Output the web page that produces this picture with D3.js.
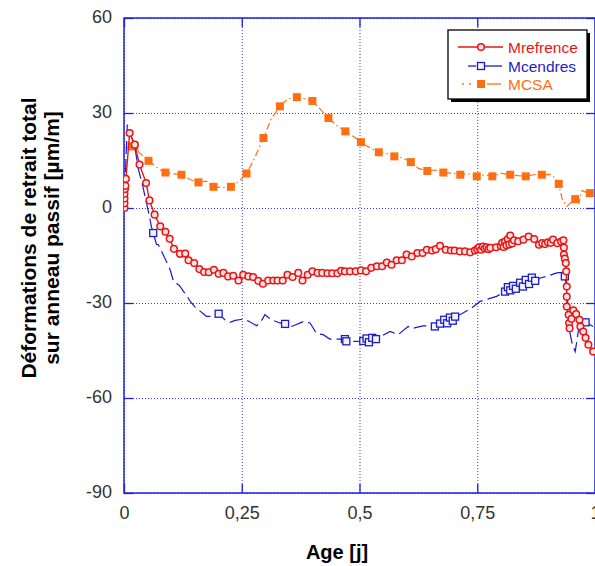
<!DOCTYPE html>
<html><head><meta charset="utf-8">
<script src="https://cdn.jsdelivr.net/npm/d3@7"></script>
<style>html,body{margin:0;padding:0;background:#fff;overflow:hidden}</style>
</head><body>
<svg id="c" width="595" height="566"></svg>
<script>
// ---------- data ----------
const xTicks = [0, 0.25, 0.5, 0.75, 1];
const xTickLabels = ["0", "0,25", "0,5", "0,75", "1"];
const yTicks = [-90, -60, -30, 0, 30, 60];
const yTickLabels = ["-90", "-60", "-30", "0", "30", "60"];
const seriesNames = ["Mrefrence", "Mcendres", "MCSA"];

const refAge = [0.001,0.001,0.001,0.001,0.002,0.003,0.004,0.012,0.023,0.033,0.047,0.054,0.065,0.077,0.088,0.097,0.106,0.119,0.130,0.137,0.149,0.160,0.170,0.180,0.191,0.201,0.211,0.221,0.232,0.243,0.253,0.264,0.274,0.285,0.295,0.306,0.317,0.326,0.337,0.347,0.358,0.370,0.379,0.390,0.400,0.411,0.421,0.432,0.442,0.453,0.461,0.469,0.480,0.492,0.503,0.514,0.525,0.537,0.548,0.558,0.568,0.579,0.590,0.600,0.611,0.623,0.634,0.643,0.654,0.662,0.671,0.683,0.694,0.702,0.713,0.724,0.735,0.745,0.750,0.754,0.758,0.762,0.766,0.770,0.774,0.778,0.790,0.800,0.803,0.806,0.809,0.812,0.815,0.818,0.820,0.824,0.828,0.837,0.848,0.859,0.871,0.881,0.888,0.894,0.900,0.906,0.911,0.920,0.928,0.933,0.934,0.934,0.936,0.938,0.939,0.940,0.940,0.940,0.944,0.945,0.946,0.950,0.954,0.960,0.967,0.969,0.975,0.980,0.986,0.996];
const refVal = [0,1.5,3,4.5,6,7,9.2,23.7,20.0,13.7,7.9,2.4,-2.1,-5.8,-7.5,-9.7,-12.9,-14.5,-14.4,-16.5,-17.4,-19.3,-20.2,-20.3,-19.5,-20.8,-20.5,-21.6,-21.4,-22.9,-21.1,-21.6,-21.8,-23.0,-23.9,-22.9,-22.9,-22.9,-22.9,-21.1,-21.8,-20.5,-22.9,-21.1,-20.0,-20.5,-20.5,-20.6,-20.6,-20.6,-19.8,-20.0,-20.0,-20.0,-19.7,-20.0,-18.9,-18.4,-18.4,-17.2,-17.9,-16.5,-16.5,-14.7,-15.3,-14.2,-14.2,-13.2,-13.4,-13.0,-11.9,-13.2,-13.4,-13.4,-13.7,-13.7,-14.0,-13.4,-13.0,-12.4,-13.2,-12.2,-12.8,-12.4,-13.0,-12.6,-12.4,-12.0,-11.0,-12.3,-10.6,-11.8,-9.8,-11.5,-8.7,-11.2,-10.2,-10.5,-10.0,-9.0,-9.8,-11.6,-11.1,-11.4,-10.8,-11.0,-10.0,-11.1,-10.6,-10.2,-12.5,-14.7,-16.0,-17.4,-20,-24.8,-28,-31.1,-33.7,-36.3,-38,-35,-32.3,-33.5,-35.3,-37.4,-39,-41,-43.2,-45.3];

const cendAge = [0.001,0.004,0.007,0.015,0.023,0.030,0.040,0.047,0.054,0.058,0.062,0.069,0.073,0.083,0.098,0.105,0.117,0.134,0.140,0.151,0.175,0.190,0.201,0.214,0.225,0.236,0.253,0.264,0.282,0.294,0.299,0.313,0.331,0.342,0.356,0.382,0.395,0.409,0.423,0.437,0.469,0.472,0.494,0.508,0.515,0.520,0.527,0.535,0.546,0.565,0.582,0.603,0.611,0.623,0.635,0.650,0.660,0.671,0.680,0.686,0.692,0.698,0.703,0.717,0.738,0.756,0.774,0.791,0.809,0.815,0.820,0.826,0.832,0.841,0.847,0.853,0.860,0.866,0.873,0.884,0.897,0.919,0.931,0.936,0.940,0.942,0.947,0.952,0.958,0.964,0.968,0.980,0.996];
const cendVal = [0,15,26.3,23,19.4,12.6,6.8,2.1,-2.6,-5.8,-7.9,-11.5,-11.6,-14.7,-19.5,-23.2,-24.4,-27.9,-29.3,-31.3,-34.2,-34.2,-33.4,-35.3,-36.1,-35.5,-35.1,-35.7,-37.2,-35.1,-33.7,-35.3,-36.3,-36.6,-37.4,-35.8,-36.3,-39.7,-40.0,-41.4,-41.4,-42.1,-42.1,-42.0,-41.2,-42.4,-41.0,-41.4,-40.5,-39.0,-40.0,-37.4,-38.1,-37.6,-37.2,-37.2,-37.4,-36.5,-35.3,-36.4,-34.6,-35.6,-34.3,-33.4,-31.6,-29.5,-28.7,-27.9,-26.4,-25.0,-26.0,-24.6,-25.5,-23.6,-24.8,-22.7,-24.0,-22.0,-23.0,-22.1,-21.6,-20.5,-20.3,-21.6,-25.3,-29.5,-39.5,-43.2,-45.3,-39.5,-35.8,-36.1,-37.4];
const cendMarkAge = [0.062,0.201,0.342,0.469,0.472,0.508,0.515,0.520,0.527,0.535,0.660,0.671,0.680,0.686,0.692,0.698,0.703,0.809,0.815,0.820,0.826,0.832,0.841,0.847,0.853,0.860,0.866,0.873,0.936,0.980];
const cendMarkVal = [-7.9,-33.4,-36.6,-41.4,-42.1,-42.0,-41.2,-42.4,-41.0,-41.4,-37.4,-36.5,-35.3,-36.4,-34.6,-35.6,-34.3,-26.4,-25.0,-26.0,-24.6,-25.5,-23.6,-24.8,-22.7,-24.0,-22.0,-23.0,-21.6,-36.1];

const csaAge = [0.004,0.016,0.022,0.033,0.052,0.076,0.088,0.105,0.122,0.140,0.158,0.175,0.190,0.210,0.227,0.245,0.260,0.275,0.296,0.312,0.331,0.348,0.367,0.385,0.400,0.418,0.434,0.452,0.470,0.488,0.503,0.522,0.541,0.558,0.574,0.592,0.609,0.625,0.644,0.660,0.678,0.695,0.714,0.732,0.749,0.765,0.782,0.800,0.820,0.837,0.853,0.870,0.887,0.905,0.915,0.923,0.930,0.940,0.950,0.958,0.966,0.972,0.980,0.989,0.996];
const csaVal = [19,19.5,19.5,17.4,14.9,12.1,11.2,10.8,10.5,9.0,8.1,8.5,6.7,6.4,6.7,8.5,10.9,15,22.1,28,32.1,34.5,35.0,34.5,33.8,31,28.4,26,24.2,22.5,20.8,19,17.6,17.2,16.3,15.8,14.5,12.5,11.7,12.0,11.2,11.0,10.5,10.8,10.0,10.5,10.0,11.0,10.5,10.2,10.0,10.5,10.5,10.6,9.5,7.6,3,0.5,1.8,2.8,1.5,5.5,5.0,4.7,4.5];
const csaMarkAge = [0.016,0.022,0.052,0.088,0.122,0.158,0.190,0.227,0.260,0.296,0.331,0.367,0.400,0.434,0.470,0.503,0.541,0.574,0.609,0.644,0.678,0.714,0.749,0.782,0.820,0.853,0.887,0.923,0.958,0.989];
const csaMarkVal = [19.5,19.5,14.9,11.2,10.5,8.1,6.7,6.7,10.9,22.1,32.1,35.0,33.8,28.4,24.2,20.8,17.6,16.3,14.5,11.7,11.2,10.5,10.0,10.0,10.5,10.0,10.5,7.6,2.8,4.7];

// ---------- drawing ----------
const RED = "#e81515", BLUE = "#1c1ccc", ORANGE = "#ff6f12", AXIS = "#2020dd", GRID = "#3a3aff";
const svg = d3.select("#c");
const L = 124, R = 595, T = 18, B = 493;
const x = d3.scaleLinear().domain([0, 1]).range([L, R]);
const y = d3.scaleLinear().domain([-90, 60]).range([B, T]);
const font = "'Liberation Sans', Arial, sans-serif";

// gridlines
const gx = svg.append("g").attr("transform", `translate(0,${B})`)
  .call(d3.axisBottom(x).tickValues(xTicks).tickSize(-(B - T)).tickFormat(""));
gx.select(".domain").remove();
gx.selectAll("line").attr("stroke", GRID).attr("stroke-dasharray", "1,2").attr("stroke-width", 1);
const gy = svg.append("g").attr("transform", `translate(${L},0)`)
  .call(d3.axisLeft(y).tickValues(yTicks).tickSize(-(R - L)).tickFormat(""));
gy.select(".domain").remove();
gy.selectAll("line").attr("stroke", GRID).attr("stroke-dasharray", "1,2").attr("stroke-width", 1);

// inward solid ticks
function ticks(gen, tr) {
  const g = svg.append("g").attr("transform", tr).call(gen);
  g.select(".domain").remove();
  g.selectAll("text").remove();
  g.selectAll("line").attr("stroke", AXIS).attr("stroke-width", 1.3);
}
ticks(d3.axisBottom(x).tickValues(xTicks).tickSize(-9), `translate(0,${B})`);
ticks(d3.axisTop(x).tickValues(xTicks).tickSize(-9), `translate(0,${T})`);
ticks(d3.axisLeft(y).tickValues(yTicks).tickSize(-9), `translate(${L},0)`);
ticks(d3.axisRight(y).tickValues(yTicks).tickSize(-9), `translate(${R},0)`);

// frame
svg.append("rect").attr("x", L).attr("y", T).attr("width", R - L).attr("height", B - T)
  .attr("fill", "none").attr("stroke", AXIS).attr("stroke-width", 1.5);

// tick labels
const xl = svg.append("g").attr("transform", `translate(0,${B + 10})`)
  .call(d3.axisBottom(x).tickValues(xTicks).tickSize(0).tickFormat((d, i) => xTickLabels[i]));
xl.select(".domain").remove();
xl.selectAll("text").attr("font-family", font).attr("font-size", 18).attr("fill", "#333");
const yl = svg.append("g").attr("transform", `translate(${L - 9},-1)`)
  .call(d3.axisLeft(y).tickValues(yTicks).tickSize(0).tickFormat((d, i) => yTickLabels[i]));
yl.select(".domain").remove();
yl.selectAll("text").attr("font-family", font).attr("font-size", 18).attr("fill", "#333");

// axis titles
svg.append("text").attr("x", 337).attr("y", 559).attr("text-anchor", "middle")
  .attr("font-family", font).attr("font-size", 20).attr("font-weight", "bold").text("Age [j]");
svg.append("text").attr("transform", "translate(36,238) rotate(-90)").attr("text-anchor", "middle")
  .attr("font-family", font).attr("font-size", 21).attr("font-weight", "bold").text("Déformations de retrait total");
svg.append("text").attr("transform", "translate(58.5,238) rotate(-90)").attr("text-anchor", "middle")
  .attr("font-family", font).attr("font-size", 21).attr("font-weight", "bold").text("sur anneau passif [µm/m]");

// clip
svg.append("clipPath").attr("id", "clip").append("rect").attr("x", L).attr("y", T).attr("width", R - L).attr("height", B - T);
const plot = svg.append("g").attr("clip-path", "url(#clip)");
const line = d3.line().x(d => x(d[0])).y(d => y(d[1]));
const zip = (a, b) => a.map((v, i) => [v, b[i]]);

// MCSA
plot.append("path").datum(zip(csaAge, csaVal)).attr("d", line).attr("fill", "none")
  .attr("stroke", ORANGE).attr("stroke-width", 1.2).attr("stroke-dasharray", "7,3,1.5,3");
plot.selectAll(".csa").data(zip(csaMarkAge, csaMarkVal)).enter().append("rect")
  .attr("x", d => x(d[0]) - 4).attr("y", d => y(d[1]) - 4).attr("width", 8).attr("height", 8).attr("fill", ORANGE);

// Mcendres
plot.append("path").datum(zip(cendAge, cendVal)).attr("d", line).attr("fill", "none")
  .attr("stroke", BLUE).attr("stroke-width", 1.2).attr("stroke-dasharray", "13,5");
plot.selectAll(".cend").data(zip(cendMarkAge, cendMarkVal)).enter().append("rect")
  .attr("x", d => x(d[0]) - 3.5).attr("y", d => y(d[1]) - 3.5).attr("width", 7).attr("height", 7)
  .attr("fill", "#f4f4ff").attr("stroke", BLUE).attr("stroke-width", 1.3);

// Mrefrence
plot.append("path").datum(zip(refAge, refVal)).attr("d", line).attr("fill", "none")
  .attr("stroke", RED).attr("stroke-width", 1.4);
plot.selectAll(".ref").data(zip(refAge, refVal)).enter().append("circle")
  .attr("cx", d => x(d[0])).attr("cy", d => y(d[1])).attr("r", 3.3)
  .attr("fill", "#ffe4e4").attr("stroke", RED).attr("stroke-width", 1.5);

// legend
const lg = svg.append("g");
lg.append("rect").attr("x", 451).attr("y", 33).attr("width", 139).attr("height", 69).attr("fill", "#000");
lg.append("rect").attr("x", 448).attr("y", 30).attr("width", 139).attr("height", 69).attr("fill", "#fff")
  .attr("stroke", "#000").attr("stroke-width", 1.3);
const ly = [47, 66, 84];
const cols = [RED, BLUE, ORANGE];
// red
lg.append("line").attr("x1", 458).attr("x2", 503).attr("y1", ly[0]).attr("y2", ly[0]).attr("stroke", RED).attr("stroke-width", 1.4);
lg.append("circle").attr("cx", 481).attr("cy", ly[0]).attr("r", 3.3).attr("fill", "#ffe4e4").attr("stroke", RED).attr("stroke-width", 1.5);
// blue
lg.append("line").attr("x1", 468).attr("x2", 476).attr("y1", ly[1]).attr("y2", ly[1]).attr("stroke", BLUE).attr("stroke-width", 1.3);
lg.append("line").attr("x1", 485).attr("x2", 502).attr("y1", ly[1]).attr("y2", ly[1]).attr("stroke", BLUE).attr("stroke-width", 1.3);
lg.append("rect").attr("x", 477.5).attr("y", ly[1] - 3.5).attr("width", 7).attr("height", 7).attr("fill", "#f4f4ff").attr("stroke", BLUE).attr("stroke-width", 1.3);
// orange
lg.append("line").attr("x1", 462).attr("x2", 464).attr("y1", ly[2]).attr("y2", ly[2]).attr("stroke", ORANGE).attr("stroke-width", 1.3);
lg.append("line").attr("x1", 469).attr("x2", 471).attr("y1", ly[2]).attr("y2", ly[2]).attr("stroke", ORANGE).attr("stroke-width", 1.3);
lg.append("line").attr("x1", 487).attr("x2", 501).attr("y1", ly[2]).attr("y2", ly[2]).attr("stroke", ORANGE).attr("stroke-width", 1.3);
lg.append("rect").attr("x", 477).attr("y", ly[2] - 4).attr("width", 8).attr("height", 8).attr("fill", ORANGE);
seriesNames.forEach((n, i) => {
  lg.append("text").attr("x", 508).attr("y", ly[i] + 5.5).attr("font-family", font).attr("font-size", 15.5)
    .attr("fill", cols[i]).text(n);
});
</script>
</body></html>
